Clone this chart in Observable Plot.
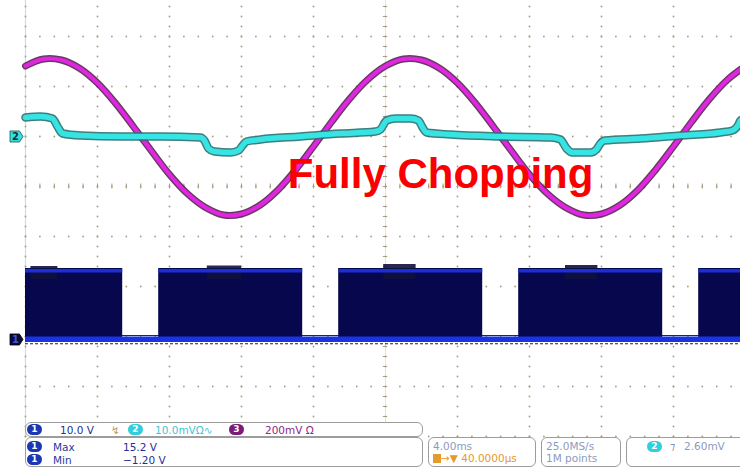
<!DOCTYPE html>
<html><head><meta charset="utf-8">
<script src="https://cdn.jsdelivr.net/npm/d3@7"></script>
<script src="https://cdn.jsdelivr.net/npm/@observablehq/plot@0.6"></script>
<style>
body{margin:0;background:#fff;}
#wrap{position:relative;width:740px;height:469px;overflow:hidden;font-family:"DejaVu Sans",Verdana,sans-serif;}
#wrap svg{position:absolute;left:0;top:0;}
.box{position:absolute;border:1px solid #9c9c9c;border-radius:6px;background:#fff;box-sizing:border-box;}
.t{position:absolute;font-size:10.5px;line-height:12px;white-space:nowrap;}
.pill{position:absolute;width:15px;height:11px;border-radius:6px;color:#fff;font-size:9px;font-weight:bold;text-align:center;line-height:11px;}
</style></head><body><div id="wrap"></div>
<script>
// ---- Channel 3 (magenta, 200 mV/div): samples every 1 ms ----
const ch3Time = [-20,-19,-18,-17,-16,-15,-14,-13,-12,-11,-10,-9,-8,-7,-6,-5,-4,-3,-2,-1,0,1,2,3,4,5,6,7,8,9,10,11,12,13,14,15,16,17,18,19,20];
const ch3mV   = [282,310,306,273,214,133,39,-58,-152,-229,-284,-314,-310,-276,-216,-134,-40,58,150,227,282,310,306,273,214,133,39,-58,-152,-229,-284,-314,-310,-276,-216,-134,-40,58,150,227,282];

// ---- Channel 2 (cyan, 10 mV/div) ----
const ch2Time = [-20,-19.17,-18.5,-18.22,-17.94,-16.94,-14.72,-12.5,-10.28,-10.06,-9.83,-9.5,-8.61,-8.17,-7.94,-7.72,-6.94,-4.72,-2.5,-0.56,-0.28,0.06,0.56,1.39,1.83,2.06,2.28,3.61,6.39,9.17,9.72,10.06,10.39,11.39,11.72,11.94,12.17,14.17,16.39,18.61,19.28,19.61,19.72,20.2];
const ch2mV   = [3.8,4.0,3.6,2.0,0.6,0.2,0.0,0.0,-0.2,-0.8,-2.4,-3.0,-3.2,-2.8,-1.8,-1.0,-0.6,0.0,0.6,1.0,1.4,3.2,3.6,3.6,3.2,1.8,0.8,0.4,0.0,-0.2,-0.6,-2.4,-3.2,-3.2,-2.6,-1.4,-0.8,-0.4,0.2,0.8,1.2,2.4,3.2,3.8];

// ---- Channel 1 (PWM, 10 V/div) ----
const pwmOnStart = [-20, -12.6, -2.6, 7.4, 17.4];
const pwmOnEnd   = [-14.6, -4.6, 5.4, 15.4, 20.5];
const ch1High = 14.2, ch1Max = 15.2, ch1Min = -1.2;
const burstStart = [-19.7, -9.9, -0.1, 10.0];
const burstEnd   = [-18.2, -8.0, 1.7, 11.8];
const burstTop   = [14.6, 14.7, 15.0, 14.8];

// ---- Graticule ----
const gridTimes = [-20,-16,-12,-8,-4,0,4,8,12,16,20];
const gridDivs = [3,2,1,0,-1,-2,-3,-4,-5];

// channel offsets in divisions
const ch1Off = -3.06, ch2Off = 1.0, ch3Off = 1.0;
const ch1Div = v => v/10 + ch1Off;
const ch2Div = v => v/10 + ch2Off;
const ch3Div = v => v/200 + ch3Off;

const ch3 = ch3Time.map((t,i) => ({t, d: ch3Div(ch3mV[i])}));
const ch2 = ch2Time.map((t,i) => ({t, d: ch2Div(ch2mV[i])}));
const pwm = pwmOnStart.map((s,i) => ({s, e: pwmOnEnd[i]}));
const bursts = burstStart.map((s,i) => ({s, e: burstEnd[i], top: burstTop[i]}));

const vDots = gridTimes.flatMap(t => d3.range(-5, 3.8, 0.2).map(d => ({t, d})));
const hDots = gridDivs.flatMap(d => d3.range(-20, 20.01, 0.8).map(t => ({t, d})));
const cTicksV = d3.range(-5, 3.8, 0.2).map(d => ({d}));
const cTicksH = d3.range(-20, 20.01, 0.8).map(t => ({t}));

const pent = {draw(ctx, size){ const s = Math.sqrt(size/Math.PI);
  ctx.moveTo(-s, -s*0.85); ctx.lineTo(s*0.45, -s*0.85); ctx.lineTo(s, 0);
  ctx.lineTo(s*0.45, s*0.85); ctx.lineTo(-s, s*0.85); ctx.closePath(); }};
const markerT = -20.5;

const chart = Plot.plot({
  width: 740, height: 469, margin: 0,
  x: {domain: [-20, 20], range: [25, 745], axis: null},
  y: {domain: [-4, 4], range: [386, -14], axis: null},
  style: {background: "transparent"},
  marks: [
    Plot.ruleX([-20], {y1: -5, y2: 3.8, stroke: "#c9dcf0", strokeWidth: 1.2}),
    Plot.dot(vDots, {x: "t", y: "d", r: 0.9, fill: "#a99d84", stroke: null}),
    Plot.dot(hDots, {x: "t", y: "d", r: 0.9, fill: "#a99d84", stroke: null}),
    Plot.ruleX([0], {y1: -5, y2: 3.8, stroke: "#d6cfc0", strokeWidth: 0.6}),
    Plot.ruleY(cTicksV, {y: "d", x1: -0.12, x2: 0.12, stroke: "#a89c82", strokeWidth: 1}),
    Plot.ruleX(cTicksH, {x: "t", y1: -0.05, y2: 0.05, stroke: "#a89c82", strokeWidth: 1}),
    // Channel 1
    Plot.ruleY([ch1Div(0.8)], {x1: -20, x2: 20.5, stroke: "#22226a", strokeWidth: 1}),
    Plot.rect(pwm, {x1: "s", x2: "e", y1: ch1Div(0), y2: ch1Div(ch1High), fill: "#07074e"}),
    Plot.rect(bursts, {x1: "s", x2: "e", y1: ch1Div(12), y2: d => ch1Div(d.top), fill: "#10103e", fillOpacity: 0.9}),
    Plot.rect(pwm, {x1: "s", x2: "e", y1: ch1Div(13.3), y2: ch1Div(14.0), fill: "#1b2fd6"}),
    Plot.rect([0], {x1: -20, x2: 20.5, y1: ch1Div(-0.6), y2: ch1Div(0.5), fill: "#1a34e4"}),
    Plot.ruleY([ch1Div(-0.85)], {x1: -20, x2: 20.5, stroke: "#1a1a5e", strokeWidth: 1.2, strokeDasharray: "3,2"}),
    // Channel 3 (magenta)
    Plot.line(ch3, {x: "t", y: "d", curve: "catmull-rom", stroke: "#4a1a44", strokeWidth: 7, strokeOpacity: 0.85}),
    Plot.line(ch3, {x: "t", y: "d", curve: "catmull-rom", stroke: "#e026e0", strokeWidth: 4.2}),
    // Channel 2 (cyan)
    Plot.line(ch2, {x: "t", y: "d", curve: "monotone-x", stroke: "#2a7070", strokeWidth: 8.5, strokeOpacity: 0.9}),
    Plot.line(ch2, {x: "t", y: "d", curve: "monotone-x", stroke: "#36e4e4", strokeWidth: 5.5}),
    // ground markers
    Plot.dot([{y: ch2Off}], {x: markerT, y: "y", symbol: pent, r: 6.5, fill: "#36e0e0", stroke: "#155", strokeWidth: 0.8}),
    Plot.text([{y: ch2Off}], {x: markerT, y: "y", text: () => "2", dx: -1, fill: "#103030", fontSize: 10, fontWeight: "bold", fontFamily: "DejaVu Sans"}),
    Plot.dot([{y: ch1Off}], {x: markerT, y: "y", symbol: pent, r: 6.5, fill: "#0b0b36", stroke: "#000", strokeWidth: 0.8}),
    Plot.text([{y: ch1Off}], {x: markerT, y: "y", text: () => "1", dx: -1, fill: "#3b55e0", fontSize: 10, fontWeight: "bold", fontFamily: "DejaVu Sans"}),
    // annotation
    Plot.text(["Fully Chopping"], {x: 3.06, y: -0.02, text: d => d, textAnchor: "middle", lineAnchor: "bottom",
      fill: "#fa0000", fontSize: 42, fontWeight: "bold", fontFamily: "Liberation Sans, Arial, sans-serif"})
  ]
});
const wrap = document.getElementById("wrap");
wrap.appendChild(chart);

// ---- status panel ----
const panel = [
  ["box", 25, 422, 398, 15],
  ["box", 25, 437, 398, 30],
  ["box", 428, 437, 108, 30],
  ["box", 541, 437, 80, 30],
  ["box", 626, 437, 120, 30],
  ["pill", 27, 424, "1", "#1c37b0"],
  ["t", 60, 424, "10.0 V", "#1f2f98"],
  ["t", 111, 424, "↯", "#c49a5c"],
  ["pill", 128, 424, "2", "#2fcfdc"],
  ["t", 155, 424, "10.0mVΩ∿", "#3fc6d6"],
  ["pill", 229, 424, "3", "#7a1c7a"],
  ["t", 265, 424, "200mV Ω", "#8c2a8c"],
  ["pill", 27, 441, "1", "#1c37b0"],
  ["t", 53, 441, "Max", "#1f3aa2"],
  ["t", 123, 441, "15.2 V", "#1f2f98"],
  ["pill", 27, 454, "1", "#1c37b0"],
  ["t", 53, 454, "Min", "#1f3aa2"],
  ["t", 123, 454, "−1.20 V", "#1f2f98"],
  ["t", 433, 440, "4.00ms", "#8b9bc0"],
  ["t", 433, 452, "<span style='display:inline-block;width:8px;height:9px;background:#e59a2c;vertical-align:-1px'></span>→▼ 40.0000µs", "#e59a2c"],
  ["t", 546, 440, "25.0MS/s", "#8b9bc0"],
  ["t", 546, 452, "1M points", "#8b9bc0"],
  ["pill", 647, 441, "2", "#2fcfdc"],
  ["t", 670, 440, "⁊", "#7f8fb5"],
  ["t", 684, 440, "2.60mV", "#8b9bc0"]
];
for (const p of panel) {
  const el = document.createElement("div");
  el.className = p[0];
  el.style.left = p[1] + "px"; el.style.top = p[2] + "px";
  if (p[0] === "box") { el.style.width = p[3] + "px"; el.style.height = p[4] + "px"; }
  else if (p[0] === "pill") { el.textContent = p[3]; el.style.background = p[4]; }
  else { el.innerHTML = p[3]; el.style.color = p[4]; }
  wrap.appendChild(el);
}
</script></body></html>
